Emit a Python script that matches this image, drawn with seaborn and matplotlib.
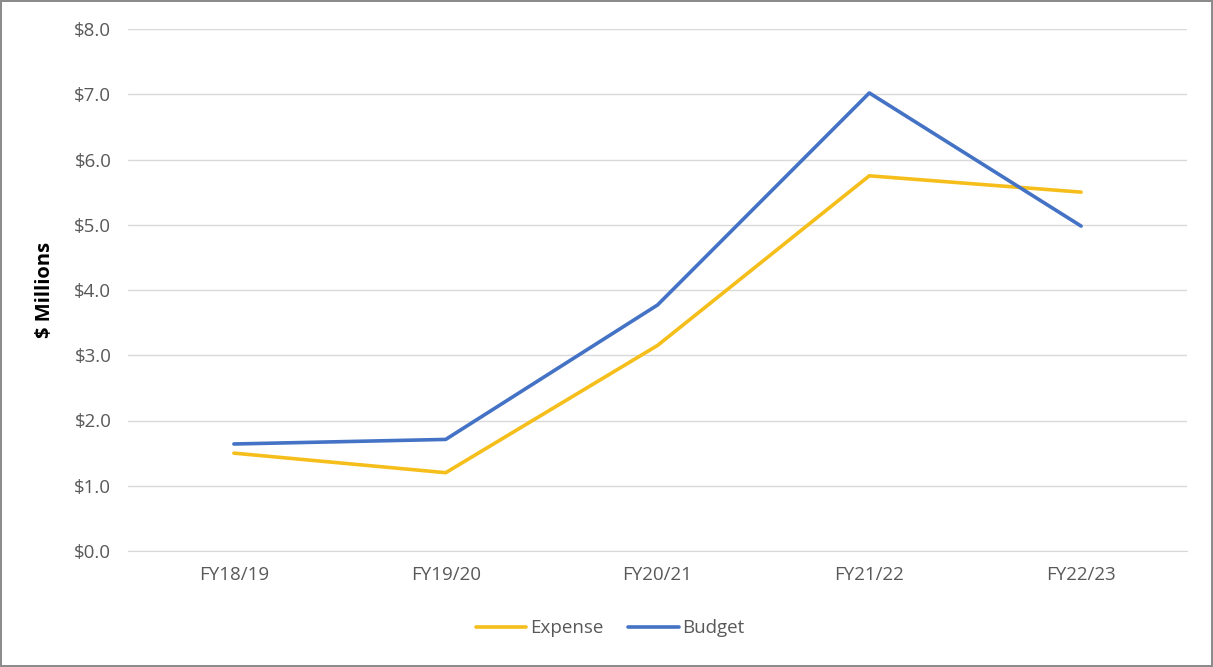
import pandas as pd
import matplotlib.pyplot as plt
import seaborn as sns
from matplotlib.ticker import FuncFormatter

years = ['FY18/19', 'FY19/20', 'FY20/21', 'FY21/22', 'FY22/23']
expense = [1.50, 1.20, 3.15, 5.75, 5.50]
budget = [1.64, 1.71, 3.77, 7.02, 4.98]

df = pd.DataFrame({
    'year': years * 2,
    'value': expense + budget,
    'series': ['Expense'] * len(years) + ['Budget'] * len(years),
})

sns.set_style('white')
plt.rcParams['font.family'] = ['Open Sans', 'DejaVu Sans']

fig = plt.figure(figsize=(12.13, 6.67), dpi=100)
fig.patch.set_edgecolor('#8c8c8c')
fig.patch.set_linewidth(1.5)
ax = fig.add_axes([128 / 1213, 1 - 551 / 667, (1187 - 128) / 1213, (551 - 29) / 667])

df['x'] = df['year'].map({y: i for i, y in enumerate(years)})
sns.lineplot(data=df, x='x', y='value', hue='series',
             palette={'Expense': '#F5BE1A', 'Budget': '#4472C4'},
             linewidth=2.6, ax=ax, legend=True)

ax.set_xlim(-0.5, len(years) - 0.5)
ax.set_ylim(0, 8)
ax.set_yticks([i for i in range(9)])
ax.yaxis.set_major_formatter(FuncFormatter(lambda v, p: f'${v:.1f}'))
ax.set_xticks(range(len(years)))
ax.set_xticklabels(years)
ax.tick_params(axis='both', labelsize=13.5, labelcolor='#595959', length=0)
ax.tick_params(axis='x', pad=11)
ax.tick_params(axis='y', pad=12)
ax.grid(axis='y', color='#d9d9d9', linewidth=1)
ax.set_axisbelow(True)
for s in ax.spines.values():
    s.set_visible(False)
ax.spines['bottom'].set_visible(True)
ax.spines['bottom'].set_color('#d9d9d9')

ax.set_xlabel('')
ax.set_ylabel('$ Millions', fontsize=14.5, fontweight='bold', color='black', labelpad=14)

handles, labels = ax.get_legend_handles_labels()
ax.get_legend().remove()
fig.legend(handles, labels, loc='center', bbox_to_anchor=(0.503, 0.058), ncol=2,
           frameon=False, fontsize=13.5, labelcolor='#595959', handlelength=2.7,
           handletextpad=0.2, columnspacing=1.3)

fig.savefig('out.png', dpi=100, edgecolor=fig.get_edgecolor())
